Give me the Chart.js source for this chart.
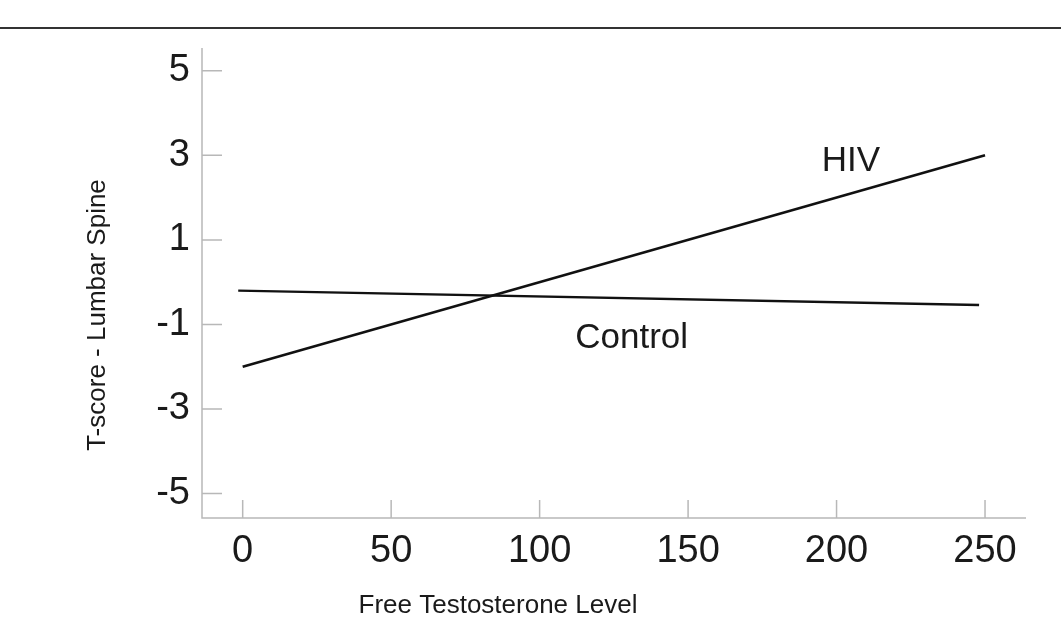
<!DOCTYPE html>
<html>
<head>
<meta charset="utf-8">
<title>T-score vs Free Testosterone</title>
<script src="https://cdn.jsdelivr.net/npm/chart.js@4"></script>
<style>
  html, body { margin: 0; padding: 0; background: #fff; }
  #wrap { width: 1061px; height: 623px; position: relative; }
</style>
</head>
<body>
<div id="wrap"><canvas id="chart"></canvas></div>
<script>
// ---- data ----
const hivX = [0, 250];
const hivY = [-2, 3];
const controlX = [-1.5, 248];
const controlY = [-0.2, -0.54];

const xTicks = [0, 50, 100, 150, 200, 250];
const yTicks = [5, 3, 1, -1, -3, -5];

const xTitle = "Free Testosterone Level";
const yTitle = "T-score - Lumbar Spine";

// series labels, anchored in data units (left edge, baseline)
const seriesLabels = [
  { text: "HIV", x: 195, y: 2.62 },
  { text: "Control", x: 112, y: -1.56 },
];

const FONT = "'Liberation Sans', Arial, Helvetica, sans-serif";
const INK = "#1a1a1a";
const AXIS = "#b8b8b8";

const toPoints = (xs, ys) => xs.map((x, i) => ({ x, y: ys[i] }));

// axis lines, inward tick marks, titles and in-plot labels
const decorations = {
  id: "decorations",
  afterDraw(chart) {
    const { ctx, chartArea: a, scales } = chart;
    const xs = scales.x, ys = scales.y;
    ctx.save();

    // rule across the top of the figure
    ctx.strokeStyle = "#333";
    ctx.lineWidth = 2;
    ctx.beginPath();
    ctx.moveTo(0, 28);
    ctx.lineTo(chart.width, 28);
    ctx.stroke();

    // axes
    ctx.strokeStyle = AXIS;
    ctx.lineWidth = 1.5;
    ctx.beginPath();
    ctx.moveTo(a.left, a.top);
    ctx.lineTo(a.left, a.bottom);
    ctx.lineTo(a.right, a.bottom);
    ctx.stroke();

    // tick marks pointing into the plot
    ctx.beginPath();
    yTicks.forEach((v) => {
      const py = ys.getPixelForValue(v);
      ctx.moveTo(a.left, py);
      ctx.lineTo(a.left + 20, py);
    });
    xTicks.forEach((v) => {
      const px = xs.getPixelForValue(v);
      ctx.moveTo(px, a.bottom);
      ctx.lineTo(px, a.bottom - 18);
    });
    ctx.stroke();

    // series labels
    ctx.fillStyle = INK;
    ctx.font = "35px " + FONT;
    ctx.textAlign = "left";
    ctx.textBaseline = "alphabetic";
    seriesLabels.forEach((l) => {
      ctx.fillText(l.text, xs.getPixelForValue(l.x), ys.getPixelForValue(l.y));
    });

    // axis titles
    ctx.font = "26px " + FONT;
    ctx.textAlign = "center";
    ctx.textBaseline = "middle";
    ctx.fillText(xTitle, 498, 606);
    ctx.translate(98, 315);
    ctx.rotate(-Math.PI / 2);
    ctx.fillText(yTitle, 0, 0);

    ctx.restore();
  },
};

new Chart(document.getElementById("chart"), {
  type: "scatter",
  data: {
    datasets: [
      { label: "HIV", data: toPoints(hivX, hivY), showLine: true, borderColor: "#111", borderWidth: 2.6, pointRadius: 0 },
      { label: "Control", data: toPoints(controlX, controlY), showLine: true, borderColor: "#111", borderWidth: 2.4, pointRadius: 0 },
    ],
  },
  options: {
    responsive: true,
    maintainAspectRatio: false,
    animation: false,
    layout: { padding: { top: 48, right: 35, left: 0, bottom: 0 } },
    plugins: { legend: { display: false }, tooltip: { enabled: false } },
    scales: {
      x: {
        type: "linear",
        min: -13.7,
        max: 263.8,
        afterBuildTicks: (s) => { s.ticks = xTicks.map((v) => ({ value: v })); },
        afterFit: (s) => { s.height = 105; },
        grid: { display: false, drawTicks: false },
        border: { display: false },
        ticks: { color: INK, font: { family: FONT, size: 38 }, padding: 11, maxRotation: 0 },
      },
      y: {
        type: "linear",
        min: -5.58,
        max: 5.54,
        afterBuildTicks: (s) => { s.ticks = yTicks.map((v) => ({ value: v })); },
        afterFit: (s) => { s.width = 202; },
        grid: { display: false, drawTicks: false },
        border: { display: false },
        ticks: { color: INK, font: { family: FONT, size: 38 }, padding: 12 },
      },
    },
  },
  plugins: [decorations],
});
</script>
</body>
</html>
